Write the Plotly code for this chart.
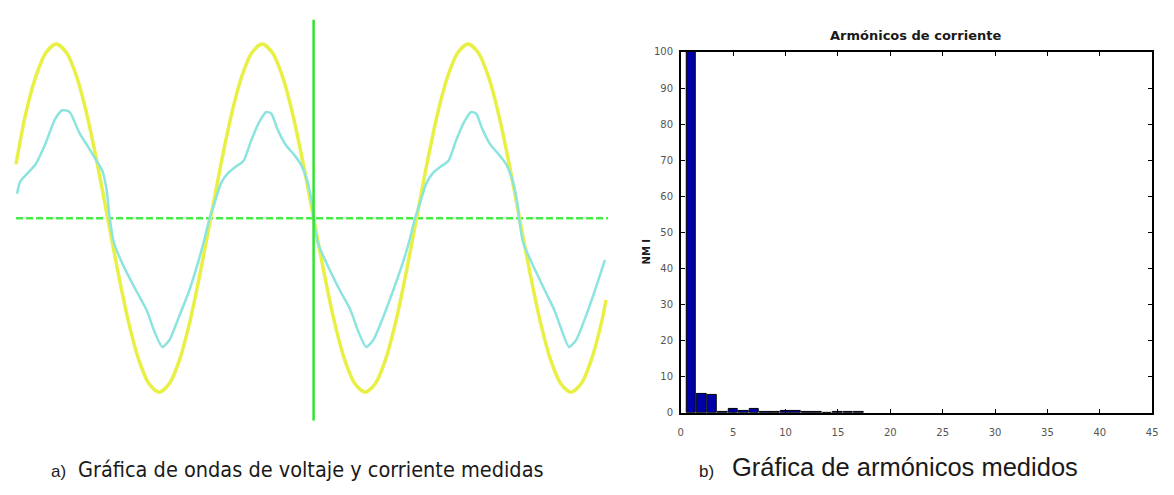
import plotly.graph_objects as go

W, H = 1174, 495

# ---------- Panel a) : measured voltage & current waveforms ----------
# time in ms, amplitude normalised to the voltage peak
volt_t = [-28.9, -28, -27, -26, -25, -24, -23, -22, -21, -20, -19, -18, -17, -16, -15,
          -14, -13, -12, -11, -10, -9, -8, -7, -6, -5, -4, -3, -2, -1, 0,
          1, 2, 3, 4, 5, 6, 7, 8, 9, 10, 11, 12, 13, 14, 15,
          16, 17, 18, 19, 20, 21, 22, 23, 24, 25, 26, 27, 28, 28.4]
volt_v = [0.31, 0.59, 0.81, 0.95, 1.0, 0.95, 0.81, 0.59, 0.31, 0.0, -0.31, -0.59, -0.81, -0.95, -1.0,
          -0.95, -0.81, -0.59, -0.31, 0.0, 0.31, 0.59, 0.81, 0.95, 1.0, 0.95, 0.81, 0.59, 0.31, 0.0,
          -0.31, -0.59, -0.81, -0.95, -1.0, -0.95, -0.81, -0.59, -0.31, 0.0, 0.31, 0.59, 0.81, 0.95, 1.0,
          0.95, 0.81, 0.59, 0.31, 0.0, -0.31, -0.59, -0.81, -0.95, -1.0, -0.95, -0.81, -0.59, -0.47]

cur_t = [-28.8, -28.5, -27.0, -26.1, -25.1, -24.4, -23.7, -22.75, -21.8, -21.2, -20.5, -20.1, -19.8,
         -19.4, -18.5, -17.2, -16.2, -15.5, -14.7, -14.0, -13.1, -12.1, -11.2, -10.6, -10.1,
         -9.6, -9.0, -8.3, -7.7, -6.8, -6.1, -5.3, -4.6, -4.1, -3.5, -2.7, -1.9, -1.25, -0.6, -0.15, 0.0,
         0.4, 1.35, 2.6, 3.6, 4.3, 5.1, 5.8, 6.75, 7.7, 8.7, 9.35, 9.85,
         10.35, 10.95, 11.6, 12.2, 13.1, 13.8, 14.6, 15.3, 15.8, 16.4, 17.2, 18.0, 18.7, 19.35, 19.8, 19.95,
         20.35, 21.3, 22.5, 23.4, 24.1, 24.8, 25.5, 26.4, 27.3, 28.3]
cur_v = [0.14, 0.21, 0.31, 0.42, 0.57, 0.62, 0.61, 0.49, 0.40, 0.34, 0.27, 0.16, 0.0,
         -0.14, -0.27, -0.42, -0.53, -0.645, -0.74, -0.70, -0.57, -0.42, -0.25, -0.12, 0.0,
         0.09, 0.20, 0.26, 0.29, 0.33, 0.44, 0.55, 0.61, 0.60, 0.51, 0.42, 0.365, 0.31, 0.21, 0.08, 0.0,
         -0.14, -0.27, -0.42, -0.53, -0.645, -0.74, -0.70, -0.57, -0.42, -0.25, -0.12, 0.0,
         0.09, 0.20, 0.26, 0.29, 0.33, 0.44, 0.55, 0.61, 0.60, 0.51, 0.42, 0.365, 0.31, 0.21, 0.08, 0.0,
         -0.14, -0.27, -0.42, -0.53, -0.645, -0.74, -0.70, -0.57, -0.42, -0.24]

axis_t_span = [-28.9, 28.6]      # horizontal reference axis extent (ms)
axis_v_span = [1.14, -1.163]     # vertical reference axis extent

# ---------- Panel b) : measured current harmonics ----------
harm_order = list(range(1, 18))
harm_pct = [100, 5.2, 5.0, 0.2, 1.0, 0.4, 1.1, 0.3, 0.3, 0.5, 0.4, 0.2, 0.1, 0.0, 0.3, 0.3, 0.1]
x_ticks = list(range(0, 46, 5))
y_ticks = list(range(0, 101, 10))

chart_title = "Armónicos de corriente"
y_label = "NM I"
caption_a_tag = "a)"
caption_a = "Gráfica de ondas de voltaje y corriente medidas"
caption_b_tag = "b)"
caption_b = "Gráfica de armónicos medidos"

fig = go.Figure()

# waves
fig.add_trace(go.Scatter(x=axis_t_span, y=[0, 0], mode="lines",
                         line=dict(color="rgb(70,235,70)", width=2.5, dash="7px,3px"),
                         xaxis="x", yaxis="y", hoverinfo="skip"))
fig.add_trace(go.Scatter(x=volt_t, y=volt_v, mode="lines",
                         line=dict(color="rgb(232,240,70)", width=3.5, shape="spline", smoothing=0.8),
                         xaxis="x", yaxis="y"))
fig.add_trace(go.Scatter(x=cur_t, y=cur_v, mode="lines",
                         line=dict(color="rgb(140,228,222)", width=2.5, shape="spline", smoothing=0.6),
                         xaxis="x", yaxis="y"))
fig.add_trace(go.Scatter(x=[0, 0], y=axis_v_span, mode="lines",
                         line=dict(color="rgb(50,228,50)", width=2.5),
                         xaxis="x", yaxis="y", hoverinfo="skip"))

# harmonics bars
fig.add_trace(go.Bar(x=harm_order, y=harm_pct, width=0.92,
                     marker=dict(color="#0000a8", line=dict(color="black", width=1)),
                     xaxis="x2", yaxis="y2"))

px2t = lambda p: (p - 313) / 10.375
py2v = lambda p: (218 - p) / 178

tickfont = dict(family="DejaVu Sans", size=10, color="#555")
fig.update_layout(
    width=W, height=H, margin=dict(l=0, r=0, t=0, b=0),
    paper_bgcolor="white", plot_bgcolor="white", showlegend=False,
    xaxis=dict(domain=[0, 620 / W], range=[px2t(0), px2t(620)], visible=False),
    yaxis=dict(domain=[0, 1], range=[py2v(H), py2v(0)], visible=False),
    xaxis2=dict(domain=[683 / W, 1158 / W], range=[0, 45], anchor="y2",
                tickvals=x_ticks, ticks="inside", ticklen=4, tickcolor="black",
                showline=True, linecolor="black", linewidth=1.5, mirror="ticks",
                showgrid=False, zeroline=False, ticklabelstandoff=10, tickfont=tickfont),
    yaxis2=dict(domain=[(H - 417) / H, (H - 48) / H], range=[0, 100], anchor="x2",
                tickvals=y_ticks, ticks="inside", ticklen=4, tickcolor="black",
                showline=True, linecolor="black", linewidth=1.5, mirror="ticks",
                showgrid=False, zeroline=False, ticklabelstandoff=4, tickfont=tickfont),
    bargap=0,
)

def ann(text, px, py, size, family, xanchor="left", angle=0, color="#1a1a1a", weight="normal"):
    fig.add_annotation(text=text, x=px / W, y=1 - py / H, xref="paper", yref="paper",
                       showarrow=False, xanchor=xanchor, yanchor="middle", textangle=angle,
                       font=dict(size=size, family=family, color=color, weight=weight))

ann(chart_title, 920, 31, 13, "DejaVu Sans", xanchor="center", weight="bold")
ann(y_label, 648, 252, 10, "DejaVu Sans", xanchor="center", angle=-90, weight="bold")
ann(caption_a_tag, 46, 477, 17, "Liberation Sans")
ann(caption_a, 74, 475, 21.5, "DejaVu Sans Condensed")
ann(caption_b_tag, 699, 477, 17, "Liberation Sans")
ann(caption_b, 733, 472, 25.5, "Liberation Sans")

fig.write_html("out.html", config={"displayModeBar": False},
               post_script="document.body.style.margin='0';document.body.style.padding='0';")
